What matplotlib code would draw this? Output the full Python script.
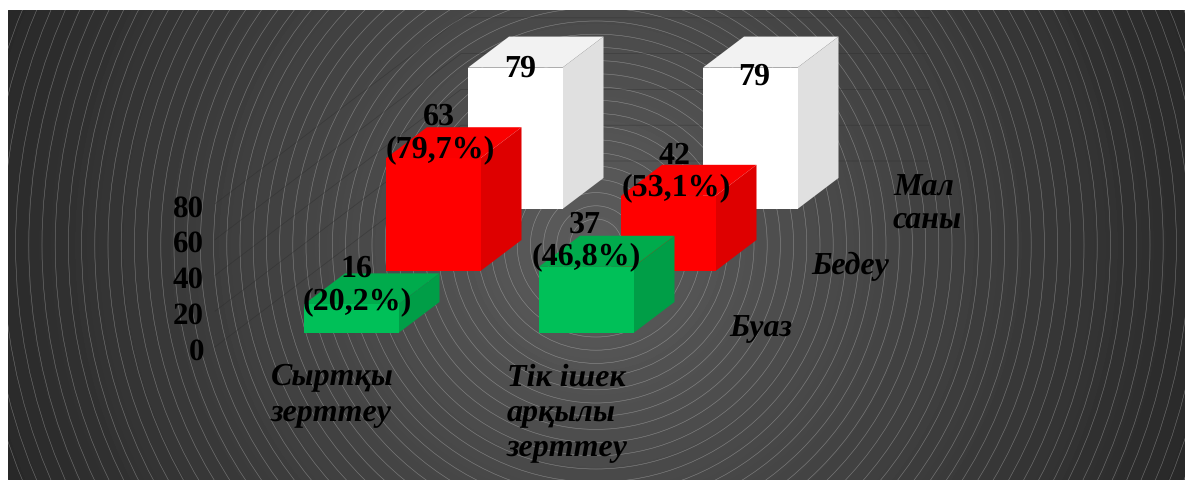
import numpy as np
import matplotlib
matplotlib.use("Agg")
import matplotlib.pyplot as plt

categories = ["Сыртқы\nзерттеу", "Тік ішек\nарқылы\nзерттеу"]
series_names = ["Буаз", "Бедеу", "Мал\nсаны"]
buaz = [16, 37]
bedeu = [63, 42]
mal_sany = [79, 79]
buaz_pct = ["20,2%", "46,8%"]
bedeu_pct = ["79,7%", "53,1%"]
y_ticks = [0, 20, 40, 60, 80]

values = [buaz, bedeu, mal_sany]
percents = [buaz_pct, bedeu_pct, [None, None]]

front_colors = ["#00c058", "#ff0000", "#ffffff"]
top_colors = ["#00ab4c", "#fa0000", "#f2f2f2"]
side_colors = ["#009e47", "#de0000", "#e0e0e0"]

# projection of the fake 3d chart, everything in image pixels
X0, Y0 = 304, 334
CAT_DX = 235
SER_DX, SER_DY = 82, -62
BAR_W = 94.5
DEPTH_X, DEPTH_Y = 41, -31
PX_PER_UNIT = 1.79

def project(cat, ser, value=0):
    x = X0 + CAT_DX * cat + SER_DX * ser
    y = Y0 + SER_DY * ser - PX_PER_UNIT * value
    return x, y

def drawBackground(ax):
    xx, yy = np.meshgrid(np.arange(8, 1185), np.arange(11, 481))
    cx, cy = 596, 246
    r = np.hypot(xx - cx, yy - cy)
    img = np.clip(0.365 - r / 645 * 0.21, 0.15, 1)
    ax.imshow(img, cmap="gray", vmin=0, vmax=1, extent=(8, 1185, 481, 11),
              aspect="auto", interpolation="bilinear", zorder=0)
    for rad in np.arange(26, 700, 13.2):
        ring = plt.Circle((cx, cy), rad, fill=False, ec="white", lw=0.4, alpha=0.34, zorder=1)
        ax.add_patch(ring)
    ax.set_xlim(0, 1185)
    ax.set_ylim(481, 0)

def drawGrid(ax):
    # faint wall lines, left wall then back wall
    for tick in y_ticks:
        y = 348 - PX_PER_UNIT * tick
        ax.plot([215, 461, 929], [y, y - 186, y - 186], color="#2a2a2a", lw=0.5, alpha=0.45, zorder=2)

def drawBar(ax, cat, ser):
    x, y = project(cat, ser)
    _, top = project(cat, ser, values[ser][cat])
    z = 6 - ser + cat * 0.1
    ax.fill([x, x + BAR_W, x + BAR_W, x], [y, y, top, top], color=front_colors[ser], lw=0, zorder=z + 0.02)
    ax.fill([x, x + BAR_W, x + BAR_W + DEPTH_X, x + DEPTH_X],
            [top, top, top + DEPTH_Y, top + DEPTH_Y], color=top_colors[ser], lw=0, zorder=z)
    ax.fill([x + BAR_W, x + BAR_W + DEPTH_X, x + BAR_W + DEPTH_X, x + BAR_W],
            [y, y + DEPTH_Y, top + DEPTH_Y, top], color=side_colors[ser], lw=0, zorder=z)

plt.rcParams["font.family"] = ["Liberation Serif", "DejaVu Serif"]
plt.rcParams["text.hinting"] = "no_hinting"
plt.rcParams["text.hinting_factor"] = 1
fig = plt.figure(figsize=(11.85, 4.81), dpi=100, facecolor="white")
ax = fig.add_axes([0, 0, 1, 1])
ax.axis("off")
drawBackground(ax)
drawGrid(ax)

for c in range(len(categories)):
    for s in range(len(series_names)):
        drawBar(ax, c, s)

# data labels, hand placed in the original so each one has its own nudge
nudges = {(0, 0): (53, -3), (1, 0): (47, -10), (0, 1): (54, -9), (1, 1): (55, -8),
          (0, 2): (52, 0), (1, 2): (51, 8)}
for (c, s), (dx, dy) in nudges.items():
    x, _ = project(c, s)
    _, top = project(c, s, values[s][c])
    val = values[s][c]
    if percents[s][c] is None:
        ax.text(x + dx, top + dy, str(val), ha="center", va="center", fontsize=23, fontweight="bold", color="black", zorder=10)
    else:
        ax.text(x + dx, top + dy, "(" + percents[s][c] + ")", ha="center", va="center", fontsize=23, fontweight="bold", color="black", zorder=10)
        ax.text(x + dx - 1, top + dy - 33, str(val), ha="center", va="center", fontsize=23, fontweight="bold", color="black", zorder=10)

for tick in y_ticks:
    ax.text(204, 352 - PX_PER_UNIT * tick, str(tick), ha="right", va="center", fontsize=22, fontweight="bold", color="black", zorder=10)

for c, name in enumerate(categories):
    ax.text(271 + 236 * c, 363, name, ha="left", va="top", fontsize=23, fontweight="bold", fontstyle="italic",
            color="black", linespacing=1.26, zorder=10)

for s, name in enumerate(series_names):
    ax.text(729 + SER_DX * s, 328 + SER_DY * s, name, ha="left", va="center", fontsize=23, fontweight="bold", fontstyle="italic",
            color="black", linespacing=1.14, zorder=10)

fig.savefig("out.png", dpi=100)
